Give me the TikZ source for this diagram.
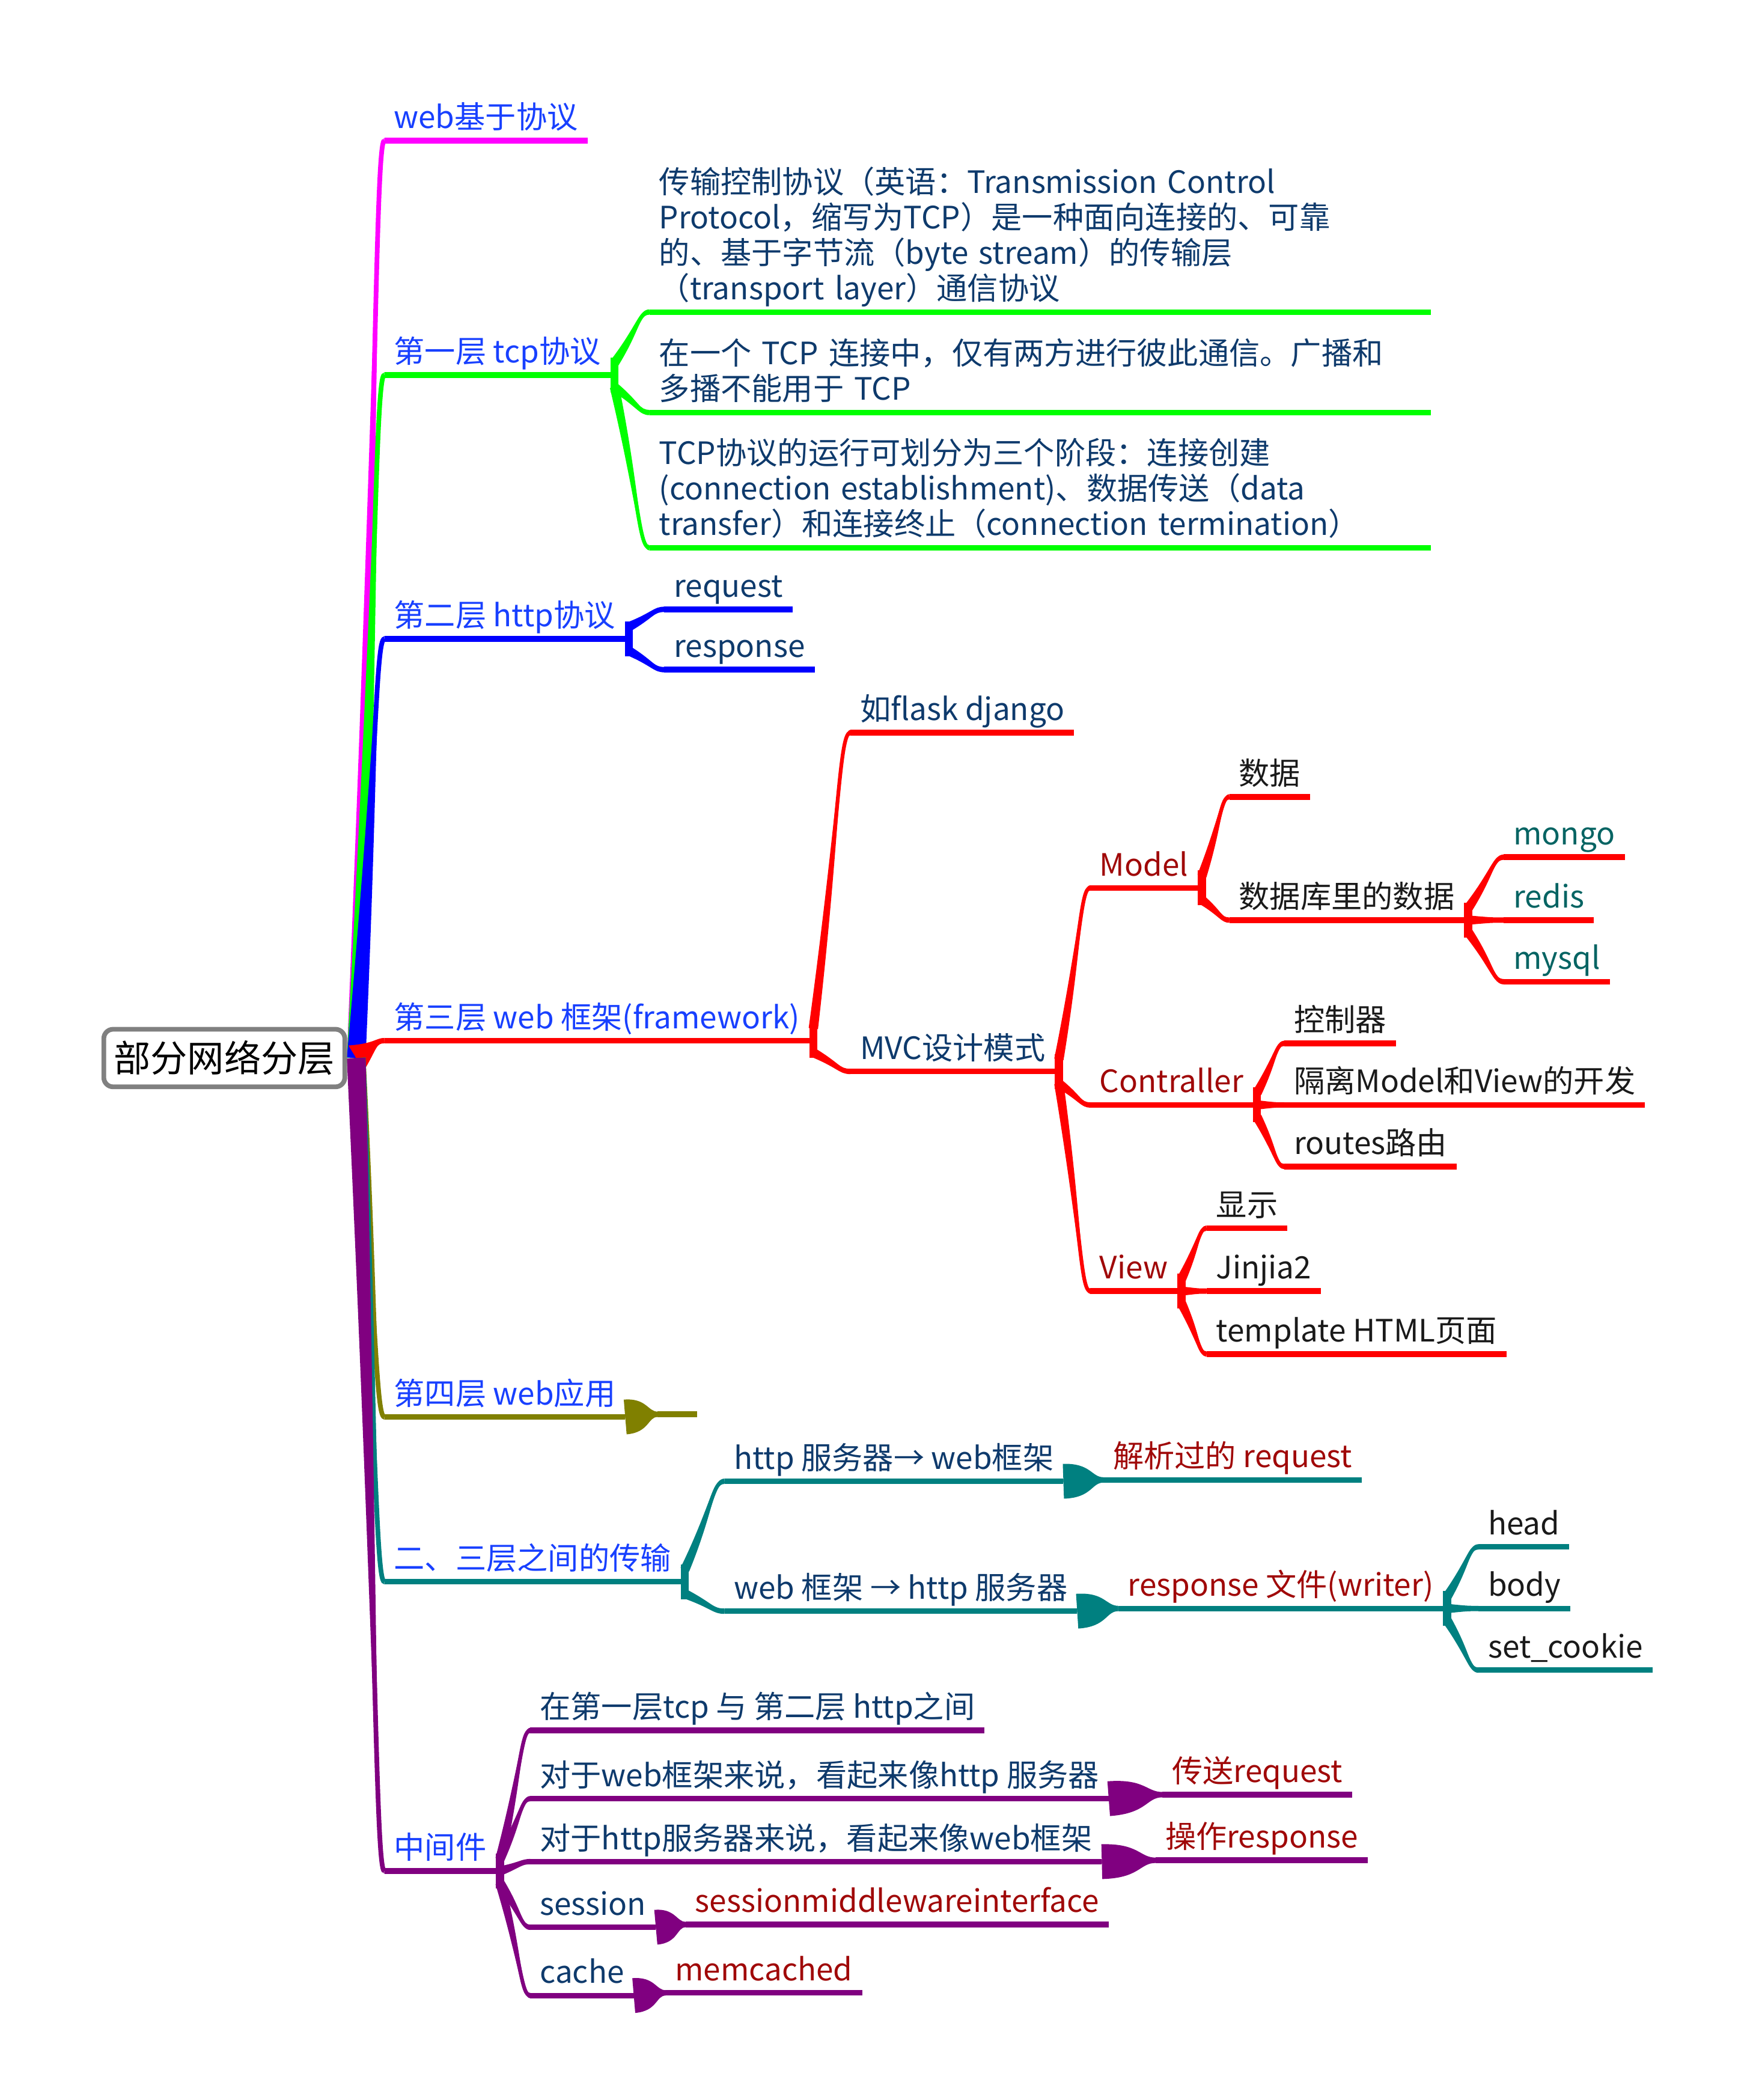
\documentclass[tikz,border=0pt]{standalone}
\usepackage{fontspec}
\setmainfont{Noto Sans CJK SC}
\usetikzlibrary{calc}
\definecolor{cmag}{HTML}{FF00FF}
\definecolor{cgreen}{HTML}{00FF00}
\definecolor{cblue}{HTML}{0000FF}
\definecolor{cred}{HTML}{FF0000}
\definecolor{colive}{HTML}{808000}
\definecolor{cteal}{HTML}{008080}
\definecolor{cpurple}{HTML}{800080}
\definecolor{cgray}{HTML}{808080}
\definecolor{tblue}{HTML}{1840FF}
\definecolor{tnavy}{HTML}{0E3A6C}
\definecolor{tred}{HTML}{A00808}
\definecolor{tblack}{HTML}{1A1A1A}
\definecolor{tteal}{HTML}{066463}
\pgfdeclarelayer{bg}
\pgfsetlayers{bg,main}
% tapered connector: color, start, end, half width at start, at first control, at end, stroke width
\newcommand\tp[7]{%
  \coordinate (q0) at #2;
  \coordinate (q3) at #3;
  \coordinate (q1) at ($(q3)!0.3!(q0)$);
  \coordinate (q2) at (q1 |- q3);
  \fill[#1] ($(q0)!#4!90:(q1)$) .. controls ($(q1)!#5!-90:(q0)$) and ($(q2)!#6!90:(q3)$) .. ($(q3)!#6!-90:(q2)$)
    -- ($(q3)!#6!90:(q2)$) .. controls ($(q2)!#6!-90:(q3)$) and ($(q1)!#5!90:(q0)$) .. ($(q0)!#4!-90:(q1)$) -- cycle;
  \draw[#1, line width=#7] (q0) .. controls (q1) and (q2) .. (q3);
}
\newcommand\ul[2]{\draw[#1,line width=4.2pt] (#2.south west) -- (#2.south east);}
\newcommand\lone[2]{\tp{#1}{(rootc)}{(#2.south west)}{7pt}{2pt}{2pt}{3.5pt}}
\newcommand\single[3]{\tp{#1}{(#2.south east)}{(#3.south west)}{13pt}{13pt}{2pt}{3pt}}
\newcommand\hub[2]{\fill[#1] ([yshift=-13pt]#2.south east) rectangle ([xshift=6pt,yshift=13pt]#2.south east);}
\newcommand\kid[4]{\tp{#1}{([xshift=3pt,yshift=#4]#2.south east)}{(#3.south west)}{3.5pt}{1.8pt}{2pt}{2.8pt}}
\tikzset{
  topic/.style={anchor=south west, inner xsep=7pt, inner ysep=1pt, align=left,
    font=\fontsize{23}{26.5}\selectfont, execute at end node=\strut},
  lone/.style={topic, text=tblue},
  navy/.style={topic, text=tnavy},
  dred/.style={topic, text=tred},
  blk/.style={topic, text=tblack},
  tea/.style={topic, text=tteal},
}
\begin{document}
\begin{tikzpicture}[x=1pt,y=-1pt]
\useasboundingbox (0,0) rectangle (1309,1568);
\node[draw=cgray, line width=3.5pt, rounded corners=7pt, fill=white, minimum width=180pt,
  minimum height=43pt, inner sep=0pt, font=\fontsize{27.5}{30}\selectfont] (root) at (167.5,790) {部分网络分层};
\coordinate (rootc) at (266,790);
% level 1
\node[lone] (n1) at (287,105) {web基于协议};
\node[lone] (n2) at (287,280) {第一层 tcp协议};
\node[lone] (n3) at (287,477) {第二层 http协议};
\node[lone] (n4) at (287,777) {第三层 web 框架(framework)};
\node[lone] (n5) at (287,1058) {第四层 web应用};
\node[lone] (n6) at (287,1181) {二、三层之间的传输};
\node[lone] (n7) at (287,1397) {中间件};
% tcp
\node[navy, text width=569pt] (n21) at (485,233) {传输控制协议（英语：Transmission Control\\Protocol，缩写为TCP）是一种面向连接的、可靠\\的、基于字节流（byte stream）的传输层\\（transport layer）通信协议};
\node[navy, text width=569pt] (n22) at (485,308) {在一个 TCP 连接中，仅有两方进行彼此通信。广播和\\多播不能用于 TCP};
\node[navy, text width=569pt] (n23) at (485,409) {TCP协议的运行可划分为三个阶段：连接创建\\(connection establishment)、数据传送（data\\transfer）和连接终止（connection termination）};
% http
\node[navy] (n31) at (496,455) {request};
\node[navy] (n32) at (496,500) {response};
% framework
\node[navy] (n41) at (635,547) {如flask django};
\node[navy] (n42) at (635,800) {MVC设计模式};
\node[dred] (m1) at (814,663) {Model};
\node[blk] (m11) at (918,595) {数据};
\node[blk] (m12) at (918,687) {数据库里的数据};
\node[tea] (m121) at (1123,640) {mongo};
\node[tea] (m122) at (1123,687) {redis};
\node[tea] (m123) at (1123,733) {mysql};
\node[dred] (m2) at (814,825) {Contraller};
\node[blk] (m21) at (959,779) {控制器};
\node[blk] (m22) at (959,825) {隔离Model和View的开发};
\node[blk] (m23) at (959,871) {routes路由};
\node[dred] (m3) at (814,964) {View};
\node[blk] (m31) at (901,917) {显示};
\node[blk] (m32) at (901,964) {Jinjia2};
\node[blk] (m33) at (901,1011) {template HTML页面};
% web app stub
\node[anchor=south west, inner sep=0pt, minimum width=29pt, minimum height=0pt] (n51) at (491,1056) {};
% transfer
\node[navy] (n61) at (541,1106) {http 服务器→ web框架};
\node[dred] (n611) at (824,1105) {解析过的 request};
\node[navy] (n62) at (541,1203) {web 框架 → http 服务器};
\node[dred] (n621) at (835,1201) {response 文件(writer)};
\node[blk] (h1) at (1104,1155) {head};
\node[blk] (h2) at (1104,1201) {body};
\node[blk] (h3) at (1104,1247) {set\_cookie};
% middleware
\node[navy] (n71) at (396,1292) {在第一层tcp 与 第二层 http之间};
\node[navy] (n72) at (396,1343) {对于web框架来说，看起来像http 服务器};
\node[dred] (n721) at (868,1340) {传送request};
\node[navy] (n73) at (396,1390) {对于http服务器来说，看起来像web框架};
\node[dred] (n731) at (863,1389) {操作response};
\node[navy] (n74) at (396,1439) {session};
\node[dred] (n741) at (512,1437) {sessionmiddlewareinterface};
\node[navy] (n75) at (396,1490) {cache};
\node[dred] (n751) at (497,1488) {memcached};

\begin{pgfonlayer}{bg}
\fill[white] (0,0) rectangle (1309,1568);
% magenta
\lone{cmag}{n1}\ul{cmag}{n1}
% green
\lone{cgreen}{n2}\ul{cgreen}{n2}\hub{cgreen}{n2}
\kid{cgreen}{n2}{n21}{9pt}\ul{cgreen}{n21}
\kid{cgreen}{n2}{n22}{-9pt}\ul{cgreen}{n22}
\kid{cgreen}{n2}{n23}{-9pt}\ul{cgreen}{n23}
% blue
\lone{cblue}{n3}\ul{cblue}{n3}\hub{cblue}{n3}
\kid{cblue}{n3}{n31}{9pt}\ul{cblue}{n31}
\kid{cblue}{n3}{n32}{-9pt}\ul{cblue}{n32}
% red
\tp{cred}{(rootc)}{(n4.south west)}{11pt}{2pt}{2pt}{3.5pt}\ul{cred}{n4}\hub{cred}{n4}
\kid{cred}{n4}{n41}{9pt}\ul{cred}{n41}
\kid{cred}{n4}{n42}{-9pt}\ul{cred}{n42}\hub{cred}{n42}
\kid{cred}{n42}{m1}{9pt}\ul{cred}{m1}\hub{cred}{m1}
\kid{cred}{m1}{m11}{9pt}\ul{cred}{m11}
\kid{cred}{m1}{m12}{-9pt}\ul{cred}{m12}\hub{cred}{m12}
\kid{cred}{m12}{m121}{9pt}\ul{cred}{m121}
\kid{cred}{m12}{m122}{0pt}\ul{cred}{m122}
\kid{cred}{m12}{m123}{-9pt}\ul{cred}{m123}
\kid{cred}{n42}{m2}{-9pt}\ul{cred}{m2}\hub{cred}{m2}
\kid{cred}{m2}{m21}{9pt}\ul{cred}{m21}
\kid{cred}{m2}{m22}{0pt}\ul{cred}{m22}
\kid{cred}{m2}{m23}{-9pt}\ul{cred}{m23}
\kid{cred}{n42}{m3}{-9pt}\ul{cred}{m3}\hub{cred}{m3}
\kid{cred}{m3}{m31}{9pt}\ul{cred}{m31}
\kid{cred}{m3}{m32}{0pt}\ul{cred}{m32}
\kid{cred}{m3}{m33}{-9pt}\ul{cred}{m33}
% olive
\lone{colive}{n5}\ul{colive}{n5}
\single{colive}{n5}{n51}\ul{colive}{n51}
% teal
\lone{cteal}{n6}\ul{cteal}{n6}\hub{cteal}{n6}
\kid{cteal}{n6}{n61}{9pt}\ul{cteal}{n61}
\single{cteal}{n61}{n611}\ul{cteal}{n611}
\kid{cteal}{n6}{n62}{-9pt}\ul{cteal}{n62}
\single{cteal}{n62}{n621}\ul{cteal}{n621}\hub{cteal}{n621}
\kid{cteal}{n621}{h1}{9pt}\ul{cteal}{h1}
\kid{cteal}{n621}{h2}{0pt}\ul{cteal}{h2}
\kid{cteal}{n621}{h3}{-9pt}\ul{cteal}{h3}
% purple
\lone{cpurple}{n7}\ul{cpurple}{n7}\hub{cpurple}{n7}
\kid{cpurple}{n7}{n71}{9pt}\ul{cpurple}{n71}
\kid{cpurple}{n7}{n72}{9pt}\ul{cpurple}{n72}
\single{cpurple}{n72}{n721}\ul{cpurple}{n721}
\kid{cpurple}{n7}{n73}{0pt}\ul{cpurple}{n73}
\single{cpurple}{n73}{n731}\ul{cpurple}{n731}
\kid{cpurple}{n7}{n74}{-9pt}\ul{cpurple}{n74}
\single{cpurple}{n74}{n741}\ul{cpurple}{n741}
\kid{cpurple}{n7}{n75}{-9pt}\ul{cpurple}{n75}
\single{cpurple}{n75}{n751}\ul{cpurple}{n751}
\end{pgfonlayer}
\end{tikzpicture}
\end{document}
